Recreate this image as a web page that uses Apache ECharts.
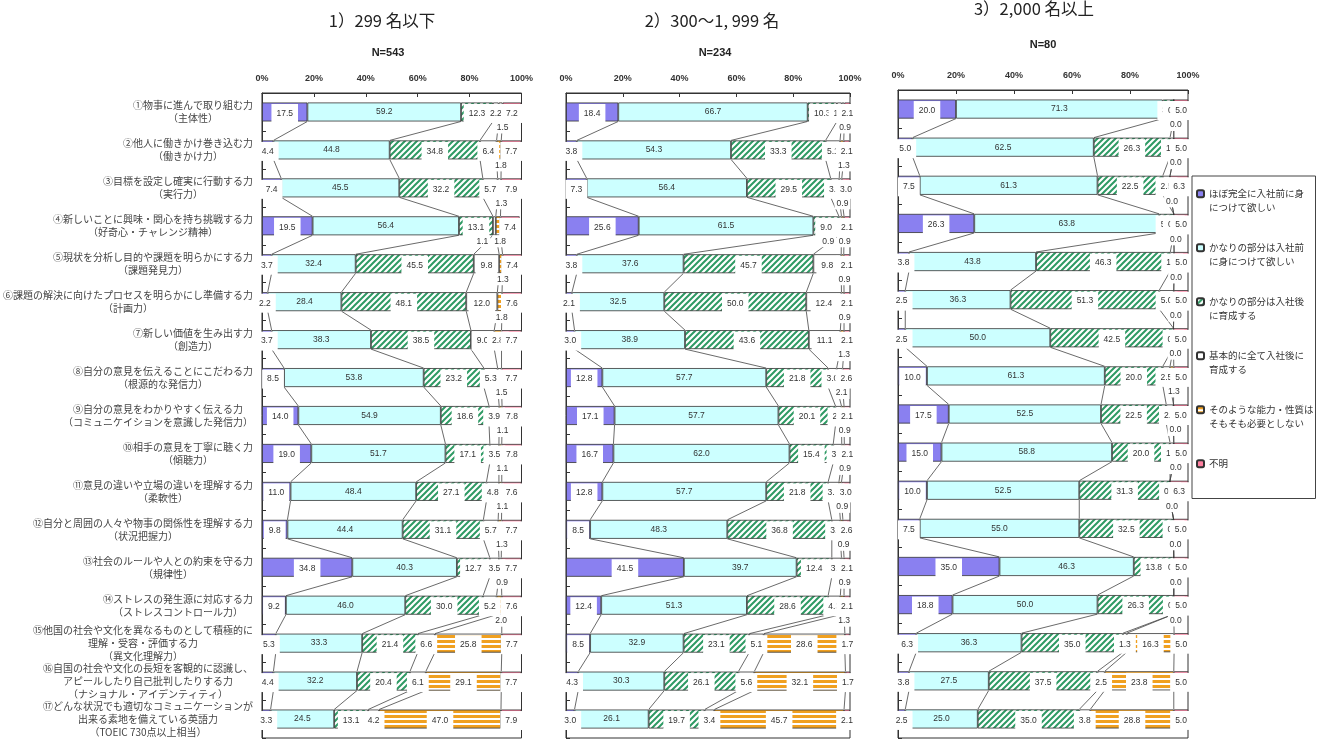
<!DOCTYPE html>
<html>
<head>
<meta charset="utf-8">
<script src="https://cdn.jsdelivr.net/npm/echarts@6/dist/echarts.min.js"></script>
<style>
  html, body { margin: 0; background: #fff; }
  #main { width: 1320px; height: 743px; }
</style>
</head>
<body>
<div id="main"></div>
<script>
// 能力項目（行）
const abilities = [
  '①物事に進んで取り組む力\n（主体性）',
  '②他人に働きかけ巻き込む力\n（働きかけ力）',
  '③目標を設定し確実に行動する力\n（実行力）',
  '④新しいことに興味・関心を持ち挑戦する力\n（好奇心・チャレンジ精神）',
  '⑤現状を分析し目的や課題を明らかにする力\n（課題発見力）',
  '⑥課題の解決に向けたプロセスを明らかにし準備する力\n（計画力）',
  '⑦新しい価値を生み出す力\n（創造力）',
  '⑧自分の意見を伝えることにこだわる力\n（根源的な発信力）',
  '⑨自分の意見をわかりやすく伝える力\n（コミュニケイションを意識した発信力）',
  '⑩相手の意見を丁寧に聴く力\n（傾聴力）',
  '⑪意見の違いや立場の違いを理解する力\n（柔軟性）',
  '⑫自分と周囲の人々や物事の関係性を理解する力\n（状況把握力）',
  '⑬社会のルールや人との約束を守る力\n（規律性）',
  '⑭ストレスの発生源に対応する力\n（ストレスコントロール力）',
  '⑮他国の社会や文化を異なるものとして積極的に\n理解・受容・評価する力\n（異文化理解力）',
  '⑯自国の社会や文化の長短を客観的に認識し、\nアピールしたり自己批判したりする力\n（ナショナル・アイデンティティ）',
  '⑰どんな状況でも適切なコミュニケーションが\n出来る素地を備えている英語力\n（TOEIC 730点以上相当）'
];

// 回答区分（系列）
const answerTypes = [
  'ほぼ完全に入社前に身につけて欲しい',
  'かなりの部分は入社前に身につけて欲しい',
  'かなりの部分は入社後に育成する',
  '基本的に全て入社後に育成する',
  'そのような能力・性質はそもそも必要としない',
  '不明'
];
const legendBreaks = [10, 10, 10, 10, 11, 0];

const panelTitles = ['1）299 名以下', '2）300～1, 999 名', '3）2,000 名以上'];
const panelN = ['N=543', 'N=234', 'N=80'];

// 各行 = [ほぼ完全, かなり入社前, かなり入社後, 全て入社後, 必要なし, 不明] (%)
const rows299 = [
  [17.5, 59.2, 12.3, 2.2, 1.5, 7.2],
  [4.4, 44.8, 34.8, 6.4, 1.8, 7.7],
  [7.4, 45.5, 32.2, 5.7, 1.3, 7.9],
  [19.5, 56.4, 13.1, 1.1, 1.8, 7.4],
  [3.7, 32.4, 45.5, 9.8, 1.3, 7.4],
  [2.2, 28.4, 48.1, 12.0, 1.8, 7.6],
  [3.7, 38.3, 38.5, 9.0, 2.8, 7.7],
  [8.5, 53.8, 23.2, 5.3, 1.5, 7.7],
  [14.0, 54.9, 18.6, 3.9, 1.1, 7.8],
  [19.0, 51.7, 17.1, 3.5, 1.1, 7.8],
  [11.0, 48.4, 27.1, 4.8, 1.1, 7.6],
  [9.8, 44.4, 31.1, 5.7, 1.3, 7.7],
  [34.8, 40.3, 12.7, 3.5, 0.9, 7.7],
  [9.2, 46.0, 30.0, 5.2, 2.0, 7.6],
  [5.3, 33.3, 21.4, 6.6, 25.8, 7.7],
  [4.4, 32.2, 20.4, 6.1, 29.1, 7.7],
  [3.3, 24.5, 13.1, 4.2, 47.0, 7.9]
];
const rows300 = [
  [18.4, 66.7, 10.3, 1.7, 0.9, 2.1],
  [3.8, 54.3, 33.3, 5.1, 1.3, 2.1],
  [7.3, 56.4, 29.5, 3.0, 0.9, 3.0],
  [25.6, 61.5, 9.0, 0.9, 0.9, 2.1],
  [3.8, 37.6, 45.7, 9.8, 0.9, 2.1],
  [2.1, 32.5, 50.0, 12.4, 0.9, 2.1],
  [3.0, 38.9, 43.6, 11.1, 1.3, 2.1],
  [12.8, 57.7, 21.8, 3.0, 2.1, 2.6],
  [17.1, 57.7, 20.1, 2.1, 0.9, 2.1],
  [16.7, 62.0, 15.4, 3.0, 0.9, 2.1],
  [12.8, 57.7, 21.8, 3.8, 0.9, 3.0],
  [8.5, 48.3, 36.8, 3.0, 0.9, 2.6],
  [41.5, 39.7, 12.4, 3.4, 0.9, 2.1],
  [12.4, 51.3, 28.6, 4.3, 1.3, 2.1],
  [8.5, 32.9, 23.1, 5.1, 28.6, 1.7],
  [4.3, 30.3, 26.1, 5.6, 32.1, 1.7],
  [3.0, 26.1, 19.7, 3.4, 45.7, 2.1]
];
const rows2000 = [
  [20.0, 71.3, 3.8, 0.0, 0.0, 5.0],
  [5.0, 62.5, 26.3, 1.3, 0.0, 5.0],
  [7.5, 61.3, 22.5, 2.5, 0.0, 6.3],
  [26.3, 63.8, 5.0, 0.0, 0.0, 5.0],
  [3.8, 43.8, 46.3, 1.3, 0.0, 5.0],
  [2.5, 36.3, 51.3, 5.0, 0.0, 5.0],
  [2.5, 50.0, 42.5, 0.0, 0.0, 5.0],
  [10.0, 61.3, 20.0, 2.5, 1.3, 5.0],
  [17.5, 52.5, 22.5, 2.5, 0.0, 5.0],
  [15.0, 58.8, 20.0, 1.3, 0.0, 5.0],
  [10.0, 52.5, 31.3, 0.0, 0.0, 6.3],
  [7.5, 55.0, 32.5, 0.0, 0.0, 5.0],
  [35.0, 46.3, 13.8, 0.0, 0.0, 5.0],
  [18.8, 50.0, 26.3, 0.0, 0.0, 5.0],
  [6.3, 36.3, 35.0, 1.3, 16.3, 5.0],
  [3.8, 27.5, 37.5, 2.5, 23.8, 5.0],
  [2.5, 25.0, 35.0, 3.8, 28.8, 5.0]
];
const panels = [rows299, rows300, rows2000];

// パネルの配置
const grids = [
  { left: 261.5, top: 93, width: 260, height: 645 },
  { left: 566, top: 93, width: 284, height: 645 },
  { left: 898, top: 90, width: 290, height: 648 }
];
const titlePos = [[382, 12, 47], [712, 12, 47], [1034, 0, 39]];
const nPos = [388, 715, 1043];

// 斜線・横線の塗り
function diagHatch(color) {
  const c = document.createElement('canvas');
  c.width = 6; c.height = 6;
  const g = c.getContext('2d');
  g.fillStyle = '#fff'; g.fillRect(0, 0, 6, 6);
  g.strokeStyle = color; g.lineWidth = 2;
  g.beginPath();
  g.moveTo(-1, 7); g.lineTo(7, -1);
  g.moveTo(-4, 4); g.lineTo(4, -4);
  g.moveTo(2, 10); g.lineTo(10, 2);
  g.stroke();
  return { image: c, repeat: 'repeat' };
}
function horizStripes(color) {
  const c = document.createElement('canvas');
  c.width = 4; c.height = 5;
  const g = c.getContext('2d');
  g.fillStyle = '#fff'; g.fillRect(0, 0, 4, 5);
  g.fillStyle = color; g.fillRect(0, 0, 4, 3);
  return { image: c, repeat: 'repeat' };
}

const fills = ['#8a80f0', '#ccffff', diagHatch('#2e9a64'), '#ffffff', horizStripes('#f0a020'), '#ff7fa0'];

const fmt = p => Number(p.value).toFixed(1);
const numFont = 'Liberation Sans';
const boxLabel = {
  show: true, position: 'inside', formatter: fmt,
  fontSize: 8.5, lineHeight: 11, color: '#333', fontFamily: numFont,
  backgroundColor: '#fff', padding: [4, 5, 4, 5], offset: [0, 1.5]
};
const plainLabel = {
  show: true, position: 'inside', formatter: fmt,
  fontSize: 8.5, lineHeight: 11, color: '#333', fontFamily: numFont
};

function isBelow(v, k) {
  if (k === 3) return v > 0 && v < 1.2;
  if (k === 4) return v < 2.5;
  return false;
}
function point(v, k) {
  if (!isBelow(v, k)) return v;
  return {
    value: v,
    label: {
      position: 'bottom', distance: 0, offset: [k === 3 ? -12 : 2, 0],
      padding: [1, 2, 1, 2], lineHeight: 10
    }
  };
}

function cumulative(r) {
  const out = [];
  let s = 0;
  r.forEach(v => { s += v; out.push(s); });
  return out;
}

// 区分線（前後の棒の境界を結ぶ線）
function seriesLines(rows, p) {
  return {
    type: 'custom', xAxisIndex: p, yAxisIndex: p, silent: true, z: 1,
    data: rows.map((r, i) => [0, i]),
    renderItem(params, api) {
      const i = api.value(1);
      if (i >= rows.length - 1) return;
      const half = api.size([0, 1])[1] / 4;
      const a = cumulative(rows[i]);
      const b = cumulative(rows[i + 1]);
      const children = [];
      for (let k = 0; k < 5; k++) {
        const p1 = api.coord([a[k], i]);
        const p2 = api.coord([b[k], i + 1]);
        children.push({
          type: 'line',
          shape: { x1: p1[0], y1: p1[1] + half, x2: p2[0], y2: p2[1] - half },
          style: { stroke: '#444', lineWidth: 0.8 }
        });
      }
      return { type: 'group', children };
    }
  };
}

const series = [];
panels.forEach((rows, p) => {
  answerTypes.forEach((name, k) => {
    series.push({
      type: 'bar', name, stack: 'panel' + p,
      xAxisIndex: p, yAxisIndex: p,
      barWidth: '50%', z: 2,
      itemStyle: { color: fills[k], borderColor: '#333', borderWidth: 0.8 },
      label: k === 1 ? plainLabel : boxLabel,
      emphasis: { disabled: true },
      data: rows.map(r => point(r[k], k))
    });
  });
  series.push(seriesLines(rows, p));
});

const titles = [];
panelTitles.forEach((t, p) => {
  titles.push({
    text: t, left: titlePos[p][0], top: titlePos[p][1], textAlign: 'center', padding: 0,
    textStyle: { fontSize: 16.5, fontWeight: 'normal', color: '#222', fontFamily: 'Noto Sans CJK JP' }
  });
  titles.push({
    text: panelN[p], left: nPos[p], top: titlePos[p][2], textAlign: 'center', padding: 0,
    textStyle: { fontSize: 11, fontWeight: 'bold', color: '#222', fontFamily: 'Liberation Sans' }
  });
});

const option = {
  animation: false,
  title: titles,
  grid: grids.map(g => Object.assign({ show: true, borderColor: '#333', borderWidth: 1 }, g)),
  xAxis: grids.map((g, p) => ({
    type: 'value', gridIndex: p, position: 'top', min: 0, max: 100, interval: 20,
    axisLine: { show: true, lineStyle: { color: '#333' } },
    axisTick: { show: true, inside: true, length: 4, lineStyle: { color: '#333' } },
    splitLine: { show: false },
    axisLabel: { formatter: '{value}%', fontSize: 9, fontWeight: 'bold', color: '#333', margin: 10, fontFamily: 'Liberation Sans' }
  })),
  yAxis: grids.map((g, p) => ({
    type: 'category', gridIndex: p, inverse: true, data: abilities,
    axisLine: { show: true, lineStyle: { color: '#333' } },
    axisTick: { show: true, inside: true, length: 4, lineStyle: { color: '#333' } },
    axisLabel: p === 0 ? {
      interval: 0, margin: 9,
      formatter: v => v.split('\n').map(l => '{c|' + l + '}').join('\n'),
      rich: { c: { align: 'center', fontSize: 10, lineHeight: 13, color: '#444', fontFamily: 'Noto Sans CJK JP' } }
    } : { show: false }
  })),
  legend: {
    orient: 'vertical', left: 1192, top: 176,
    padding: [13, 2, 30, 4],
    borderColor: '#444', borderWidth: 1,
    itemWidth: 7, itemHeight: 7, itemGap: 30.5,
    data: answerTypes.map((n, k) => k === 5 ? { name: n, textStyle: { padding: 0 } } : n),
    formatter: name => {
      const b = legendBreaks[answerTypes.indexOf(name)];
      return b ? '{t|' + name.slice(0, b) + '}\n{t|' + name.slice(b) + '}' : '{t|' + name + '}';
    },
    textStyle: {
      padding: [14, 0, 0, 0],
      rich: { t: { fontSize: 9.5, lineHeight: 14, color: '#333', fontFamily: 'Noto Sans CJK JP' } }
    }
  },
  series
};

const chart = echarts.init(document.getElementById('main'));
chart.setOption(option);
</script>
</body>
</html>
